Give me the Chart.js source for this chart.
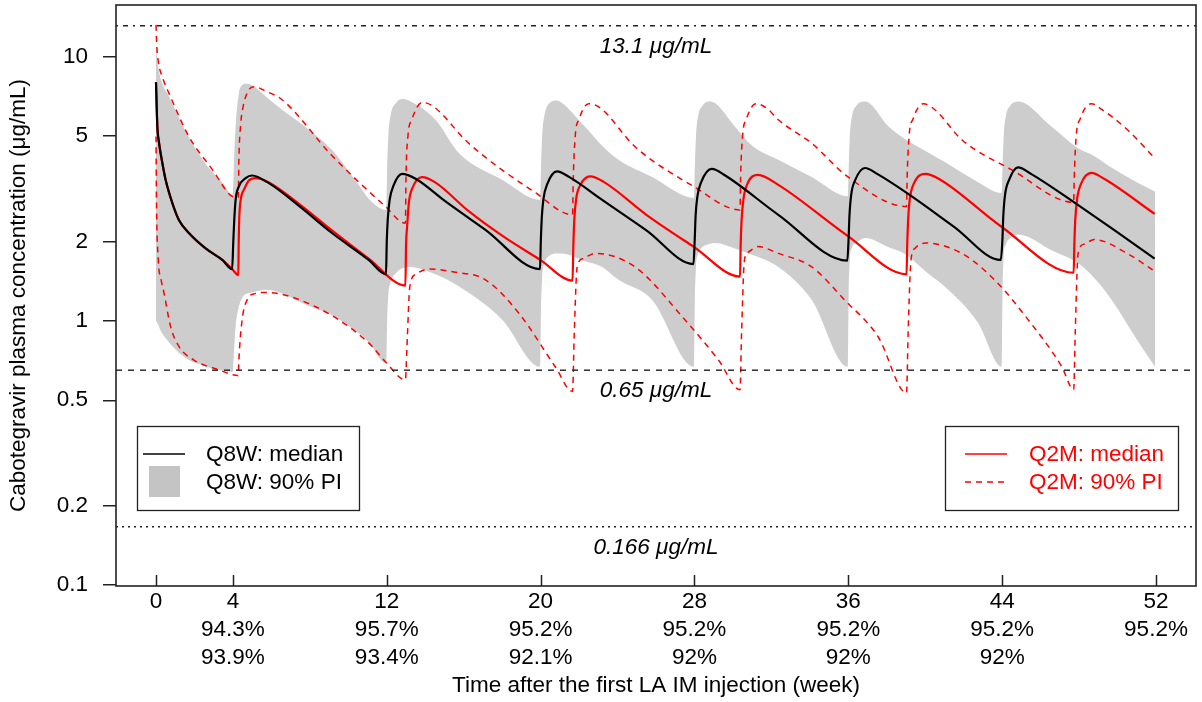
<!DOCTYPE html>
<html>
<head>
<meta charset="utf-8">
<script src="https://cdn.jsdelivr.net/npm/chart.js@4"></script>
<style>
  body { margin: 0; background: #fff; }
</style>
</head>
<body>
<canvas id="chart" width="1202" height="702"></canvas>
<script>
const FONT = '"Liberation Sans", Arial, sans-serif'
const SIZE = 22.5

// x axis: weeks, with two rows of percentages under the week numbers
const weekTicks = [0, 4, 12, 20, 28, 36, 44, 52]
const pctRow1 = ["", "94.3%", "95.7%", "95.2%", "95.2%", "95.2%", "95.2%", "95.2%"]
const pctRow2 = ["", "93.9%", "93.4%", "92.1%", "92%", "92%", "92%", ""]

const concTicks = [0.1, 0.2, 0.5, 1, 2, 5, 10]

const thresholds = [13.1, 0.65, 0.166]
const thresholdLabels = ["13.1 \u03bcg/mL", "0.65 \u03bcg/mL", "0.166 \u03bcg/mL"]
const thresholdDash = [[2, 5, 5, 5], [6, 6], [2, 4]]

// Q8W 90% PI band (shared weeks for upper / lower edge)
const bandWeeks = [
  0, 0.1, 0.3, 0.67, 1.0, 1.71, 2.5, 2.94, 3.5, 3.97,
  4.0, 4.07, 4.14, 4.31, 4.48, 4.66, 5.0, 5.71, 6.56, 7.8, 9.15, 10.5, 11.06, 11.97,
  12.02, 12.08, 12.2, 12.5, 12.8, 13.2, 14.53, 15.74, 18.0, 19.97,
  20.02, 20.08, 20.2, 20.4, 20.85, 21.1, 22.3, 23.2, 24.05, 25.8, 27.97,
  28.02, 28.08, 28.2, 28.4, 28.73, 29.1, 30.1, 31.0, 32.36, 34.1, 35.97,
  36.02, 36.08, 36.2, 36.4, 36.87, 38.1, 38.9, 40.2, 41.0, 42.75, 43.97,
  44.02, 44.08, 44.2, 44.4, 44.83, 46.56, 47.95, 48.8, 49.7, 51.0, 51.95
]
const bandUpper = [
  11.0, 9.3, 8.0, 7.1, 6.3, 4.95, 4.0, 3.65, 3.3, 3.0,
  3.05, 4.3, 5.44, 7.28, 7.8, 7.9, 7.8, 7.07, 6.3, 5.4, 4.44, 3.3, 2.9, 2.63,
  3.8, 5.0, 6.0, 6.7, 6.91, 6.8, 5.77, 4.32, 3.42, 2.87,
  3.8, 5.0, 6.0, 6.6, 6.83, 6.7, 5.44, 4.6, 4.07, 3.5, 2.92,
  3.8, 5.0, 6.0, 6.5, 6.77, 6.65, 5.44, 4.6, 4.07, 3.5, 2.96,
  3.8, 5.0, 6.0, 6.5, 6.77, 5.44, 4.9, 4.32, 4.0, 3.35, 3.05,
  3.8, 5.0, 6.0, 6.5, 6.77, 5.44, 4.5, 4.2, 3.8, 3.35, 3.09
]
const bandLower = [
  1.0, 0.97, 0.9, 0.83, 0.78, 0.71, 0.675, 0.66, 0.648, 0.64,
  0.65, 0.8, 0.95, 1.13, 1.22, 1.26, 1.28, 1.31, 1.27, 1.15, 1.05, 0.9, 0.83, 0.69,
  1.0, 1.25, 1.4, 1.52, 1.58, 1.6, 1.5, 1.35, 1.01, 0.67,
  1.1, 1.45, 1.65, 1.75, 1.8, 1.8, 1.68, 1.6, 1.43, 1.2, 0.67,
  1.2, 1.6, 1.8, 1.9, 1.95, 1.97, 1.88, 1.78, 1.6, 1.2, 0.67,
  1.3, 1.7, 1.9, 1.97, 2.06, 1.9, 1.8, 1.5, 1.35, 0.98, 0.67,
  1.3, 1.75, 1.95, 2.05, 2.12, 1.85, 1.65, 1.45, 1.2, 0.85, 0.67
]

// [week, ug/mL]
const q8wMedian = [
  [0, 8.0], [0.07, 5.44], [0.16, 4.71], [0.33, 3.96], [0.5, 3.42], [0.85, 2.79], [1.19, 2.41], [1.71, 2.15], [2.58, 1.88], [3.45, 1.70], [3.96, 1.57],
  [4.02, 2.0], [4.07, 2.41], [4.14, 2.87], [4.31, 3.23], [4.66, 3.47], [5.0, 3.55], [5.87, 3.32], [7.5, 2.7], [9.15, 2.15], [11.06, 1.70], [11.96, 1.50],
  [12.0, 2.0], [12.05, 2.41], [12.15, 2.87], [12.35, 3.25], [12.8, 3.6], [13.5, 3.45], [15.0, 2.85], [17.13, 2.21], [19.97, 1.57],
  [20.01, 2.0], [20.06, 2.45], [20.15, 2.9], [20.35, 3.3], [20.85, 3.68], [21.5, 3.5], [23.2, 2.87], [25.5, 2.2], [27.95, 1.64],
  [28.01, 2.0], [28.06, 2.5], [28.15, 2.95], [28.35, 3.35], [28.9, 3.76], [29.6, 3.55], [32.36, 2.52], [35.95, 1.69],
  [36.01, 2.0], [36.06, 2.5], [36.15, 3.0], [36.35, 3.4], [36.87, 3.79], [37.5, 3.6], [39.3, 2.96], [41.5, 2.27], [43.93, 1.70],
  [44.01, 2.0], [44.06, 2.5], [44.15, 3.0], [44.35, 3.4], [44.83, 3.81], [45.5, 3.6], [47.8, 2.79], [50, 2.16], [51.93, 1.72]
]
const q2mMedian = [
  [0, 8.0], [0.07, 5.44], [0.16, 4.71], [0.33, 3.96], [0.5, 3.42], [0.85, 2.79], [1.19, 2.41], [1.71, 2.15], [2.58, 1.88], [3.45, 1.70], [3.96, 1.57], [4.28, 1.49],
  [4.3, 1.97], [4.35, 2.63], [4.57, 3.13], [4.83, 3.4], [5.18, 3.47], [5.87, 3.34], [7.5, 2.75], [9.15, 2.2], [11.06, 1.72], [12.97, 1.36],
  [13.0, 1.9], [13.06, 2.28], [13.15, 2.8], [13.35, 3.2], [13.84, 3.5], [14.5, 3.35], [16.26, 2.6], [18.0, 2.1], [19.98, 1.70], [21.66, 1.42],
  [21.7, 1.9], [21.75, 2.4], [21.85, 2.9], [22.05, 3.25], [22.58, 3.52], [23.3, 3.35], [25.5, 2.52], [27.95, 1.91], [30.37, 1.47],
  [30.4, 1.9], [30.45, 2.4], [30.55, 2.9], [30.75, 3.3], [31.3, 3.57], [32.36, 3.27], [35.95, 2.10], [39.03, 1.50],
  [39.06, 1.9], [39.11, 2.4], [39.2, 2.9], [39.4, 3.3], [40.0, 3.6], [40.7, 3.45], [43.93, 2.28], [47.72, 1.52],
  [47.75, 1.9], [47.8, 2.4], [47.9, 2.9], [48.1, 3.3], [48.64, 3.63], [49.3, 3.45], [51.93, 2.54]
]
const q2mUpper = [
  [0, 13.2], [0.04, 11.0], [0.12, 9.6], [0.35, 8.3], [0.67, 7.28], [1.71, 4.99], [2.94, 3.73], [3.96, 2.96], [4.28, 2.93],
  [4.31, 4.07], [4.4, 5.5], [4.5, 6.3], [4.83, 7.5], [5.1, 7.7], [5.71, 7.4], [6.56, 6.87], [9.18, 4.2], [11.93, 2.71], [12.97, 2.34],
  [13.0, 3.5], [13.1, 5.0], [13.3, 5.77], [13.84, 6.71], [14.4, 6.5], [16.26, 4.7], [19.74, 3.05], [21.66, 2.52],
  [21.7, 3.5], [21.8, 5.0], [22.0, 5.8], [22.5, 6.64], [23.1, 6.4], [24.9, 4.57], [27.95, 3.23], [30.37, 2.63],
  [30.4, 3.5], [30.5, 5.0], [30.7, 5.8], [31.2, 6.64], [31.8, 6.35], [32.36, 5.77], [34.1, 4.7], [35.95, 3.52], [39.03, 2.71],
  [39.06, 3.5], [39.16, 5.0], [39.36, 5.8], [39.9, 6.64], [40.5, 6.3], [41.9, 4.85], [44.5, 3.73], [47.72, 2.81],
  [47.75, 3.5], [47.85, 5.0], [48.05, 5.8], [48.64, 6.64], [49.2, 6.3], [50.5, 5.3], [51.93, 4.13]
]
const q2mLower = [
  [0, 4.99], [0.02, 3.05], [0.12, 1.7], [0.25, 1.45], [0.42, 1.27], [0.76, 0.95], [1.19, 0.80], [1.97, 0.71], [3.27, 0.652], [4.28, 0.62],
  [4.31, 0.71], [4.48, 1.01], [4.74, 1.2], [5.18, 1.27], [5.71, 1.28], [8.3, 1.13], [11.06, 0.825], [11.93, 0.7], [12.97, 0.598],
  [13.05, 0.8], [13.2, 1.35], [13.5, 1.5], [14.18, 1.57], [15.5, 1.53], [17.13, 1.43], [18.86, 1.07], [20.76, 0.67], [21.66, 0.54],
  [21.75, 0.9], [21.9, 1.6], [22.2, 1.72], [22.84, 1.8], [24.9, 1.6], [27.5, 1.01], [29.25, 0.71], [30.37, 0.548],
  [30.45, 0.9], [30.6, 1.7], [30.8, 1.82], [31.3, 1.91], [32.36, 1.80], [34.1, 1.6], [35.8, 1.2], [37.55, 0.87], [39.03, 0.533],
  [39.11, 0.9], [39.26, 1.7], [39.46, 1.88], [40.0, 1.97], [41.9, 1.80], [43.6, 1.43], [45.35, 1.01], [47.1, 0.67], [47.72, 0.548],
  [47.8, 0.9], [47.95, 1.8], [48.25, 1.95], [48.8, 2.03], [50.5, 1.8], [51.93, 1.54]
]

const X_MIN = -2.08
const X_MAX = 54.08
const GREY = "#cdcdcd"
const RED = "#ff0000"

const pts = arr => arr.map(([x, y]) => ({ x, y }))
const curve = { pointRadius: 0, cubicInterpolationMode: "monotone", fill: false }

const datasets = [
  { ...curve, data: bandWeeks.map((x, i) => ({ x, y: bandUpper[i] })), borderWidth: 0, backgroundColor: GREY, fill: "+1", order: 6 },
  { ...curve, data: bandWeeks.map((x, i) => ({ x, y: bandLower[i] })), borderWidth: 0, order: 6 },
  { ...curve, data: pts(q2mUpper), borderColor: RED, borderWidth: 1.5, borderDash: [6, 5], order: 4 },
  { ...curve, data: pts(q2mLower), borderColor: RED, borderWidth: 1.5, borderDash: [6, 5], order: 4 },
  ...thresholds.map((v, i) => ({
    data: [{ x: X_MIN, y: v }, { x: X_MAX, y: v }], pointRadius: 0, borderColor: "#222",
    borderWidth: 1.4, borderDash: thresholdDash[i], fill: false, order: 3,
  })),
  { ...curve, data: pts(q2mMedian), borderColor: RED, borderWidth: 2.2, order: 2 },
  { ...curve, data: pts(q8wMedian), borderColor: "#000", borderWidth: 2.2, order: 1 },
]

const decorations = {
  id: "decorations",
  afterDraw(chart) {
    const { ctx, chartArea: a, scales: { x, y } } = chart
    ctx.save()

    // threshold labels
    ctx.font = "italic " + SIZE + "px " + FONT
    ctx.fillStyle = "#000"
    ctx.textAlign = "center"
    ctx.textBaseline = "middle"
    thresholds.forEach((v, i) => {
      ctx.fillText(thresholdLabels[i], (a.left + a.right) / 2, y.getPixelForValue(v) + 21)
    })

    // inward ticks on the x axis
    ctx.strokeStyle = "#222"
    ctx.lineWidth = 1.5
    ctx.beginPath()
    weekTicks.forEach(w => {
      const px = Math.round(x.getPixelForValue(w)) + 0.5
      ctx.moveTo(px, a.bottom)
      ctx.lineTo(px, a.bottom - 11)
    })
    ctx.stroke()

    // plot box
    ctx.lineWidth = 1.6
    ctx.strokeRect(a.left, a.top, a.right - a.left, a.bottom - a.top)

    // legends
    ctx.font = SIZE + "px " + FONT
    ctx.textAlign = "left"

    const lx = a.left + 21, ly = a.bottom - 160
    ctx.fillStyle = "#fff"
    ctx.fillRect(lx, ly, 222, 84)
    ctx.strokeStyle = "#222"
    ctx.lineWidth = 1.3
    ctx.strokeRect(lx + 0.5, ly + 0.5, 222, 84)
    ctx.strokeStyle = "#000"
    ctx.lineWidth = 1.5
    ctx.beginPath(); ctx.moveTo(lx + 6, ly + 28); ctx.lineTo(lx + 48, ly + 28); ctx.stroke()
    ctx.fillStyle = "#c4c4c4"
    ctx.fillRect(lx + 12, ly + 40, 31, 31)
    ctx.fillStyle = "#000"
    ctx.fillText("Q8W: median", lx + 69, ly + 29)
    ctx.fillText("Q8W: 90% PI", lx + 69, ly + 57)

    const rx = a.right - 251, ry = ly
    ctx.fillStyle = "#fff"
    ctx.fillRect(rx, ry, 233, 84)
    ctx.strokeStyle = "#222"
    ctx.lineWidth = 1.3
    ctx.strokeRect(rx + 0.5, ry + 0.5, 233, 84)
    ctx.strokeStyle = RED
    ctx.lineWidth = 1.5
    ctx.beginPath(); ctx.moveTo(rx + 20, ry + 28); ctx.lineTo(rx + 62, ry + 28); ctx.stroke()
    ctx.setLineDash([6, 5])
    ctx.beginPath(); ctx.moveTo(rx + 20, ry + 56); ctx.lineTo(rx + 62, ry + 56); ctx.stroke()
    ctx.setLineDash([])
    ctx.fillStyle = RED
    ctx.fillText("Q2M: median", rx + 84, ry + 29)
    ctx.fillText("Q2M: 90% PI", rx + 84, ry + 57)

    ctx.restore()
  }
}

new Chart(document.getElementById("chart"), {
  type: "line",
  data: { datasets },
  plugins: [decorations],
  options: {
    responsive: false,
    animation: false,
    events: [],
    layout: { padding: { top: 5, right: 6, left: 0, bottom: 0 } },
    plugins: { legend: { display: false }, tooltip: { enabled: false } },
    scales: {
      x: {
        type: "linear",
        min: X_MIN,
        max: X_MAX,
        afterBuildTicks: s => { s.ticks = weekTicks.map(v => ({ value: v })) },
        afterFit: s => { s.height = 116; s.paddingLeft = 0; s.paddingRight = 0 },
        grid: { drawOnChartArea: false, drawTicks: false },
        border: { display: false },
        ticks: {
          autoSkip: false,
          maxRotation: 0,
          padding: 2,
          color: "#000",
          font: { family: FONT, size: SIZE, lineHeight: 28 / SIZE },
          callback: (v, i) => [String(v), pctRow1[i], pctRow2[i]],
        },
        title: {
          display: true,
          text: "Time after the first LA IM injection (week)",
          color: "#000",
          font: { family: FONT, size: SIZE },
          padding: { top: 0, bottom: 3 },
        },
      },
      y: {
        type: "logarithmic",
        min: 0.099,
        max: 15.7,
        afterBuildTicks: s => { s.ticks = concTicks.map(v => ({ value: v })) },
        afterFit: s => { s.width = 116; s.paddingTop = 0; s.paddingBottom = 0 },
        grid: { drawOnChartArea: false, drawTicks: true, tickLength: 13, color: "#222", lineWidth: 1.5 },
        border: { display: false },
        ticks: {
          padding: 15,
          color: "#000",
          font: { family: FONT, size: SIZE },
          callback: v => String(v),
        },
        title: {
          display: true,
          text: "Cabotegravir plasma concentration (\u03bcg/mL)",
          color: "#000",
          font: { family: FONT, size: SIZE },
          padding: { top: 5, bottom: 0 },
        },
      },
    },
  },
})
</script>
</body>
</html>
